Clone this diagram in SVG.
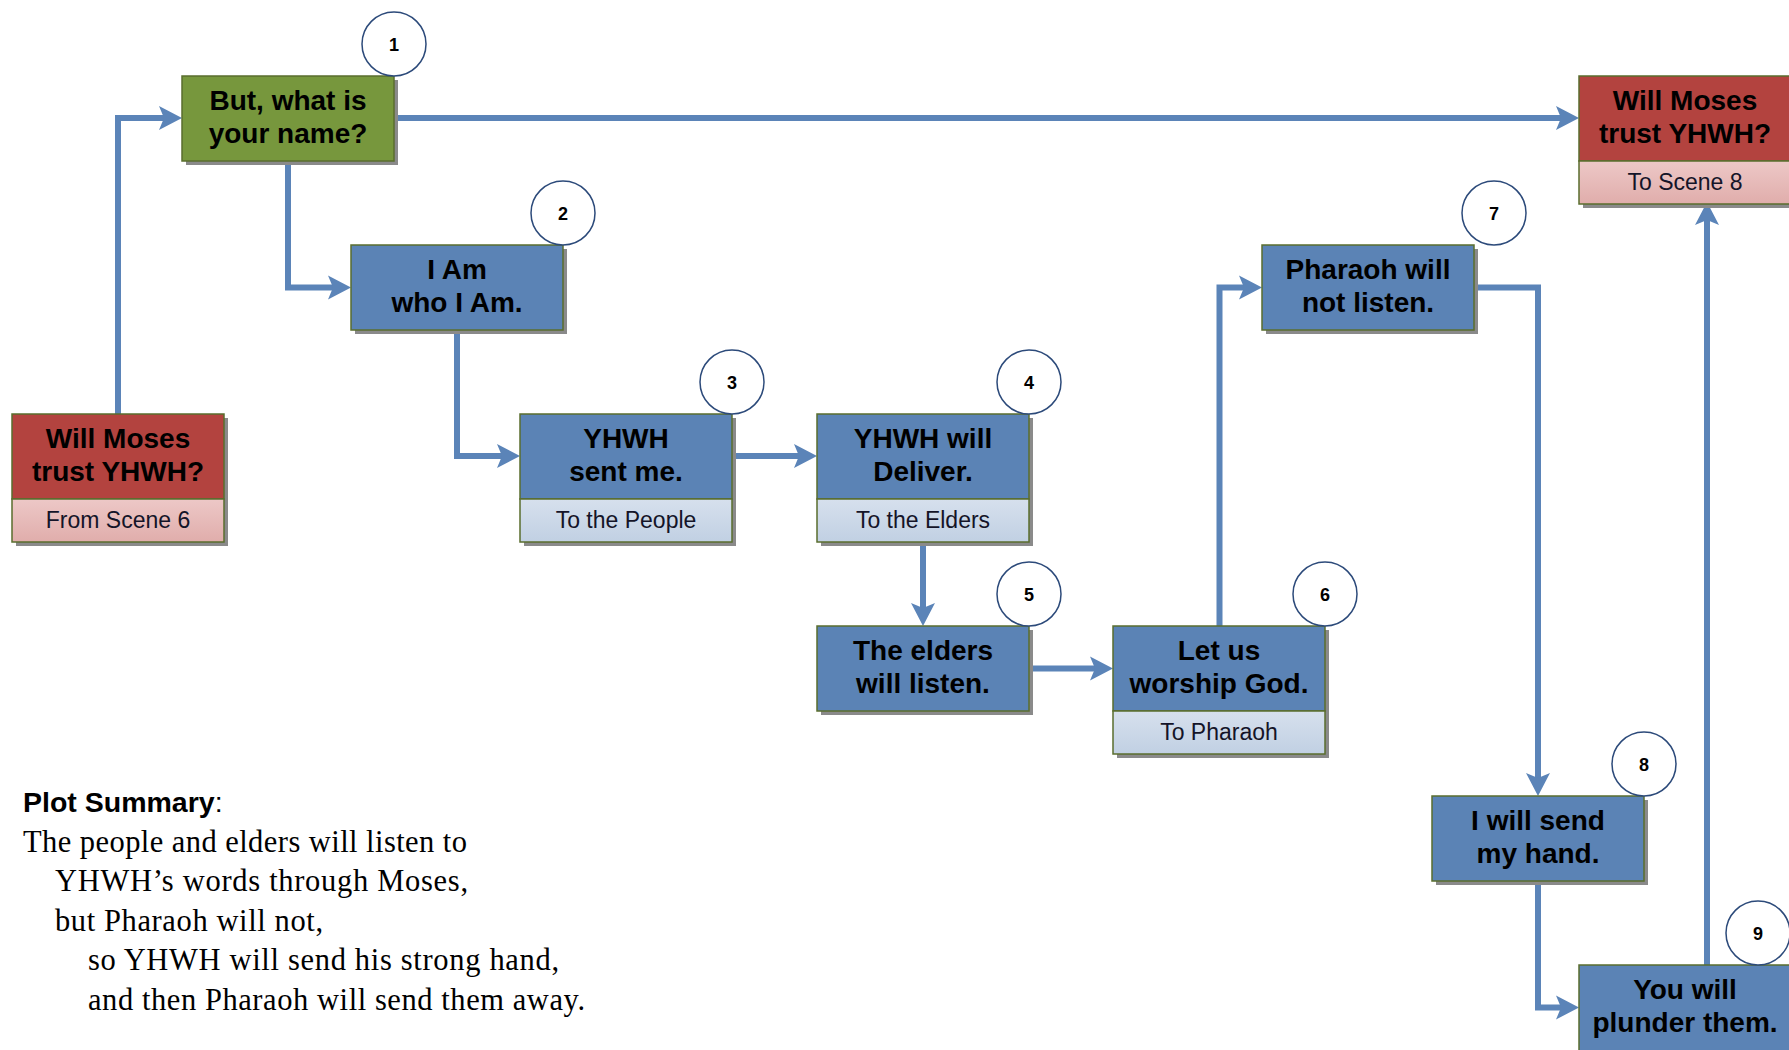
<svg xmlns="http://www.w3.org/2000/svg" width="1789" height="1050" viewBox="0 0 1789 1050">
<defs>
  <linearGradient id="gPink" x1="0" y1="0" x2="0" y2="1"><stop offset="0" stop-color="#edc8c7"/><stop offset="1" stop-color="#e0adab"/></linearGradient>
  <linearGradient id="gBlue" x1="0" y1="0" x2="0" y2="1"><stop offset="0" stop-color="#d6e0ed"/><stop offset="1" stop-color="#c1d0e3"/></linearGradient>
  <marker id="arr" markerUnits="userSpaceOnUse" markerWidth="24" markerHeight="26" viewBox="0 0 24 26" refX="11" refY="13" orient="auto">
    <path d="M0,1 L23,13 L0,25 L5,13 z" fill="#5b84b8"/>
  </marker>
</defs>
<style>
  .sh{fill:#8a8a8a}
  .bx{stroke:#5a6e2e;stroke-width:1.5}
  .green{fill:#77973d}
  .red{fill:#b3433f}
  .blue{fill:#5b83b5}
  .pink{fill:url(#gPink)}
  .lblue{fill:url(#gBlue)}
  .t{font-family:"Liberation Sans",Arial,sans-serif;font-weight:bold;font-size:28px;fill:#000;text-anchor:middle}
  .s{font-family:"Liberation Sans",Arial,sans-serif;font-size:23px;fill:#141428;text-anchor:middle}
  .c{fill:#fff;stroke:#2c4a7a;stroke-width:1.5}
  .n{font-family:"Liberation Sans",Arial,sans-serif;font-weight:bold;font-size:18px;text-anchor:middle;fill:#000}
  .conn path{fill:none;stroke:#5b84b8;stroke-width:6;stroke-linejoin:miter}
  .ps{font-family:"Liberation Sans",Arial,sans-serif;font-size:28.5px;fill:#000}
  .pt{font-family:"Liberation Serif","Times New Roman",serif;font-size:30.5px;fill:#000}
</style>
<rect width="1789" height="1050" fill="#fff"/>

<g id="connectors" class="conn">
  <path d="M118,414 V118 H170" marker-end="url(#arr)"/>
  <path d="M394,118 H1567" marker-end="url(#arr)"/>
  <path d="M288,161 V287.5 H339" marker-end="url(#arr)"/>
  <path d="M457,330 V456 H508" marker-end="url(#arr)"/>
  <path d="M732,456 H805" marker-end="url(#arr)"/>
  <path d="M923,542 V614" marker-end="url(#arr)"/>
  <path d="M1029,668.5 H1101" marker-end="url(#arr)"/>
  <path d="M1219.5,626 V287.5 H1250" marker-end="url(#arr)"/>
  <path d="M1474,287.5 H1538 V784" marker-end="url(#arr)"/>
  <path d="M1538,881 V1007.5 H1567" marker-end="url(#arr)"/>
  <path d="M1707,965 V214" marker-end="url(#arr)"/>
</g>

<g id="n1">
  <rect class="sh" x="186" y="80" width="212" height="85"/>
  <rect class="bx green" x="182" y="76" width="212" height="85"/>
  <text class="t" x="288" y="110">But, what is</text>
  <text class="t" x="288" y="143">your name?</text>
  <circle class="c" cx="394" cy="44" r="32"/>
  <text class="n" x="394" y="51">1</text>
</g>

<g id="n2">
  <rect class="sh" x="355" y="249" width="212" height="85"/>
  <rect class="bx blue" x="351" y="245" width="212" height="85"/>
  <text class="t" x="457" y="279">I Am</text>
  <text class="t" x="457" y="312">who I Am.</text>
  <circle class="c" cx="563" cy="213" r="32"/>
  <text class="n" x="563" y="220">2</text>
</g>

<g id="start">
  <rect class="sh" x="16" y="418" width="212" height="128"/>
  <rect class="bx red" x="12" y="414" width="212" height="85"/>
  <rect class="bx pink" x="12" y="499" width="212" height="43"/>
  <text class="t" x="118" y="448">Will Moses</text>
  <text class="t" x="118" y="481">trust YHWH?</text>
  <text class="s" x="118" y="528">From Scene 6</text>
</g>

<g id="n3">
  <rect class="sh" x="524" y="418" width="212" height="128"/>
  <rect class="bx blue" x="520" y="414" width="212" height="85"/>
  <rect class="bx lblue" x="520" y="499" width="212" height="43"/>
  <text class="t" x="626" y="448">YHWH</text>
  <text class="t" x="626" y="481">sent me.</text>
  <text class="s" x="626" y="528">To the People</text>
  <circle class="c" cx="732" cy="382" r="32"/>
  <text class="n" x="732" y="389">3</text>
</g>

<g id="n4">
  <rect class="sh" x="821" y="418" width="212" height="128"/>
  <rect class="bx blue" x="817" y="414" width="212" height="85"/>
  <rect class="bx lblue" x="817" y="499" width="212" height="43"/>
  <text class="t" x="923" y="448">YHWH will</text>
  <text class="t" x="923" y="481">Deliver.</text>
  <text class="s" x="923" y="528">To the Elders</text>
  <circle class="c" cx="1029" cy="382" r="32"/>
  <text class="n" x="1029" y="389">4</text>
</g>

<g id="n5">
  <rect class="sh" x="821" y="630" width="212" height="85"/>
  <rect class="bx blue" x="817" y="626" width="212" height="85"/>
  <text class="t" x="923" y="660">The elders</text>
  <text class="t" x="923" y="693">will listen.</text>
  <circle class="c" cx="1029" cy="594" r="32"/>
  <text class="n" x="1029" y="601">5</text>
</g>

<g id="n6">
  <rect class="sh" x="1117" y="630" width="212" height="128"/>
  <rect class="bx blue" x="1113" y="626" width="212" height="85"/>
  <rect class="bx lblue" x="1113" y="711" width="212" height="43"/>
  <text class="t" x="1219" y="660">Let us</text>
  <text class="t" x="1219" y="693">worship God.</text>
  <text class="s" x="1219" y="740">To Pharaoh</text>
  <circle class="c" cx="1325" cy="594" r="32"/>
  <text class="n" x="1325" y="601">6</text>
</g>

<g id="n7">
  <rect class="sh" x="1266" y="249" width="212" height="85"/>
  <rect class="bx blue" x="1262" y="245" width="212" height="85"/>
  <text class="t" x="1368" y="279">Pharaoh will</text>
  <text class="t" x="1368" y="312">not listen.</text>
  <circle class="c" cx="1494" cy="213" r="32"/>
  <text class="n" x="1494" y="220">7</text>
</g>

<g id="n8">
  <rect class="sh" x="1436" y="800" width="212" height="85"/>
  <rect class="bx blue" x="1432" y="796" width="212" height="85"/>
  <text class="t" x="1538" y="830">I will send</text>
  <text class="t" x="1538" y="863">my hand.</text>
  <circle class="c" cx="1644" cy="764" r="32"/>
  <text class="n" x="1644" y="771">8</text>
</g>

<g id="n9">
  <rect class="sh" x="1583" y="969" width="212" height="85"/>
  <rect class="bx blue" x="1579" y="965" width="212" height="90"/>
  <text class="t" x="1685" y="999">You will</text>
  <text class="t" x="1685" y="1032">plunder them.</text>
  <circle class="c" cx="1758" cy="933" r="32"/>
  <text class="n" x="1758" y="940">9</text>
</g>

<g id="end">
  <rect class="sh" x="1583" y="80" width="212" height="128"/>
  <rect class="bx red" x="1579" y="76" width="212" height="85"/>
  <rect class="bx pink" x="1579" y="161" width="212" height="43"/>
  <text class="t" x="1685" y="110">Will Moses</text>
  <text class="t" x="1685" y="143">trust YHWH?</text>
  <text class="s" x="1685" y="190">To Scene 8</text>
</g>

<g id="summary">
  <text class="ps" x="23" y="812"><tspan font-weight="bold">Plot Summary</tspan>:</text>
  <text class="pt" x="23" y="852" textLength="444" lengthAdjust="spacing">The people and elders will listen to</text>
  <text class="pt" x="55" y="891" textLength="413" lengthAdjust="spacing">YHWH’s words through Moses,</text>
  <text class="pt" x="55" y="931" textLength="268" lengthAdjust="spacing">but Pharaoh will not,</text>
  <text class="pt" x="88" y="970" textLength="471" lengthAdjust="spacing">so YHWH will send his strong hand,</text>
  <text class="pt" x="88" y="1010" textLength="497" lengthAdjust="spacing">and then Pharaoh will send them away.</text>
</g>
</svg>
